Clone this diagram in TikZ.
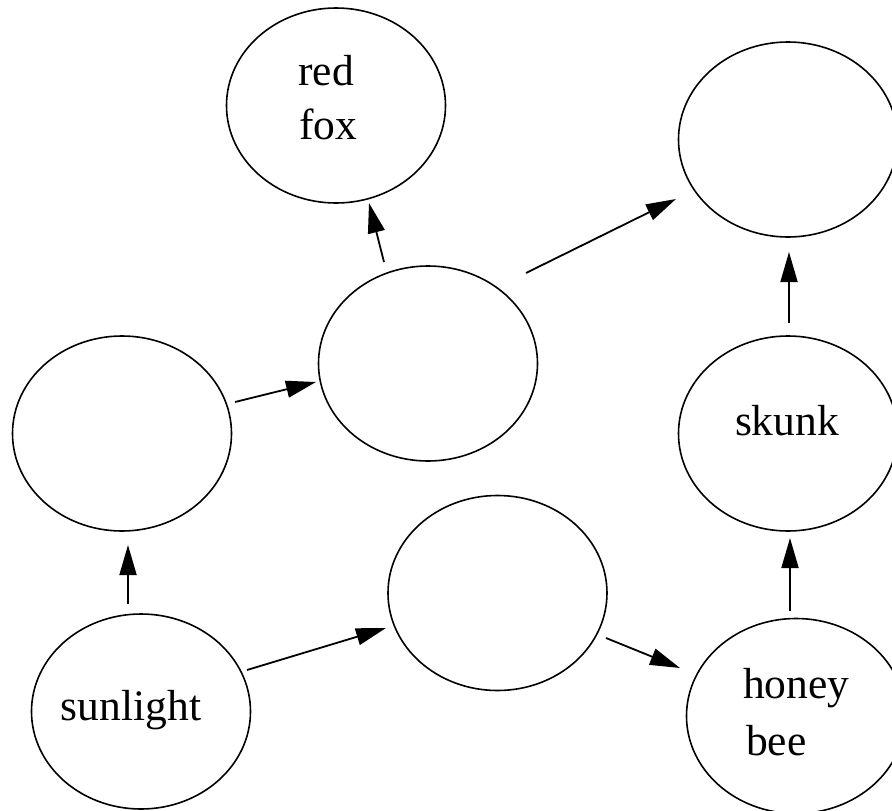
\documentclass[tikz,border=0pt]{standalone}
\usepackage{fontspec}
\setmainfont{Liberation Serif}
\usetikzlibrary{shapes.geometric,arrows.meta,calc}

\tikzset{
  bubble/.style={draw=black, line width=1.6pt, shape=ellipse,
    minimum width=219pt, minimum height=195pt, inner sep=0pt},
  lbl/.style={inner sep=0pt, font=\fontsize{43.5}{52}\selectfont},
  arr/.style={draw=black, line width=1.8pt,
    -{Triangle[length=30pt,width=17pt]}},
}

\begin{document}
\begin{tikzpicture}[x=1pt,y=-1pt]
  \clip (0,0) rectangle (892,811);
  \fill[white] (0,0) rectangle (892,811);

  % organisms
  \node[bubble] (fox)   at (336,105.5) {};
  \node[bubble] (top)   at (788,139.5) {};
  \node[bubble] (left)  at (122,433.5) {};
  \node[bubble] (mid)   at (428,363.5) {};
  \node[bubble] (skunk) at (788,433.5) {};
  \node[bubble] (low)   at (497.5,593) {};
  \node[bubble] (sun)   at (141,711.5) {};
  \node[bubble] (bee)   at (796,716)   {};

  % labels
  \node[lbl, anchor=base west] (foxA) at (298,85)  {red};
  \node[lbl, anchor=base west] (foxB) at (299,139) {fox};
  \node[lbl, anchor=base]      (skunkT) at (787,435) {skunk};
  \node[lbl, anchor=base]      (sunT) at (131,720) {sunlight};
  \node[lbl, anchor=base west] (beeA) at (743,698) {honey};
  \node[lbl, anchor=base west] (beeB) at (746,755) {bee};

  % energy flow
  \draw[arr] ($(sun)+(-13,-107.5)$)  -- ($(left)+(6,111.5)$);
  \draw[arr] ($(sun)+(106,-41.5)$)   -- ($(low)+(-111.5,35)$);
  \draw[arr] ($(low)+(108.5,45)$)    -- ($(bee)+(-116,-48)$);
  \draw[arr] ($(bee)+(-6,-105)$)     -- ($(skunk)+(2,104.5)$);
  \draw[arr] ($(skunk)+(1,-110.5)$)  -- ($(top)+(1,112.5)$);
  \draw[arr] ($(left)+(113,-31.5)$)  -- ($(mid)+(-112,18.5)$);
  \draw[arr] ($(mid)+(-44,-101.5)$)  -- ($(fox)+(33,97.5)$);
  \draw[arr] ($(mid)+(98,-90.5)$)    -- ($(top)+(-112,59.5)$);
\end{tikzpicture}
\end{document}
